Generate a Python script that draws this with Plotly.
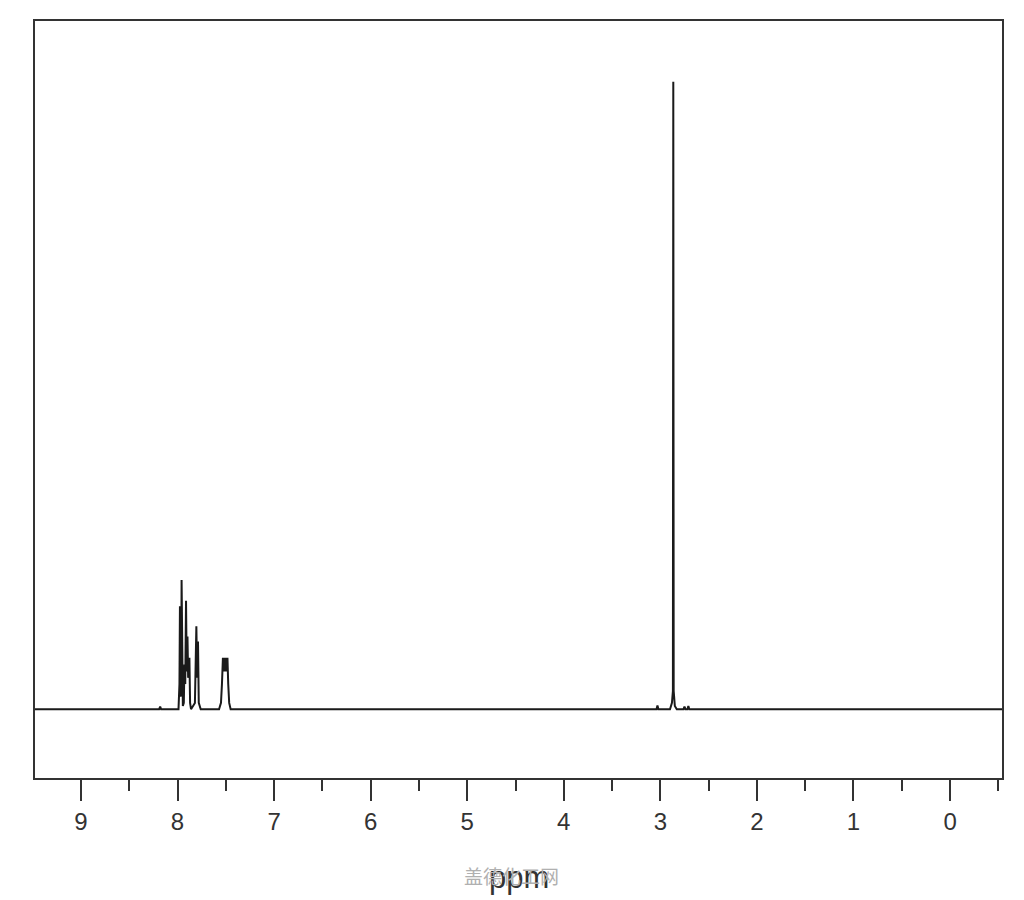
import plotly.graph_objects as go

# Spectrum polyline (chemical shift in ppm, relative intensity)
ppm = [9.48, 8.19, 8.18, 8.17, 7.99, 7.98, 7.975, 7.968, 7.962, 7.958, 7.952, 7.945,
       7.935, 7.928, 7.92, 7.912, 7.905, 7.897, 7.89, 7.877, 7.87, 7.86,
       7.82, 7.805, 7.797, 7.788, 7.78, 7.76,
       7.57, 7.55, 7.54, 7.53, 7.52, 7.512, 7.505, 7.497, 7.49, 7.483, 7.475, 7.465, 7.45,
       3.04, 3.03, 3.02, 2.9, 2.88, 2.87, 2.866, 2.862, 2.85, 2.83,
       2.76, 2.75, 2.74, 2.72, 2.71, 2.70, -0.54]
intensity = [0, 0, 0.004, 0, 0, 0.04, 0.164, 0.02, 0.03, 0.206, 0.01, 0.005,
             0.01, 0.071, 0.04, 0.173, 0.06, 0.116, 0.05, 0.082, 0.01, 0.0,
             0.01, 0.132, 0.05, 0.108, 0.01, 0.0,
             0, 0.01, 0.04, 0.082, 0.06, 0.082, 0.06, 0.082, 0.06, 0.082, 0.04, 0.01, 0,
             0, 0.006, 0, 0, 0.01, 0.029, 1.0, 0.029, 0.005, 0,
             0, 0.004, 0, 0, 0.005, 0, 0]

tick_vals = [9, 8, 7, 6, 5, 4, 3, 2, 1, 0]
tick_text = ["9", "8", "7", "6", "5", "4", "3", "2", "1", "0"]

fig = go.Figure()
fig.add_trace(go.Scatter(x=ppm, y=intensity, mode="lines",
                         line=dict(color="#1a1a1a", width=2), hoverinfo="skip"))

fig.update_layout(
    width=1024, height=900,
    margin=dict(l=27, r=30, t=11, b=130),
    paper_bgcolor="white", plot_bgcolor="white",
    showlegend=False,
    font=dict(family="Liberation Sans", color="#333333"),
    xaxis=dict(range=[9.476, -0.538], showgrid=False, zeroline=False,
               showline=True, linecolor="#333333", linewidth=2, mirror=True,
               tickmode="array", tickvals=tick_vals, ticktext=tick_text,
               ticks="outside", ticklen=21, tickwidth=2, tickcolor="#333333",
               ticklabelstandoff=0,
               tickfont=dict(size=24, color="#333333", family="Liberation Sans"),
               minor=dict(dtick=0.5, tick0=0, ticks="outside", ticklen=11,
                          tickwidth=2, tickcolor="#333333", showgrid=False)),
    yaxis=dict(range=[-0.1097, 1.097], showgrid=False, zeroline=False,
               showline=True, linecolor="#333333", linewidth=2, mirror=True,
               showticklabels=False, ticks=""),
)

fig.add_annotation(x=0.5, y=-0.132, xref="paper", yref="paper", text="ppm",
                   xanchor="center", yanchor="middle", showarrow=False,
                   font=dict(size=31, color="#333333", family="Liberation Sans"))
fig.add_annotation(x=0.493, y=-0.129, xref="paper", yref="paper", text="盖德化工网",
                   xanchor="center", yanchor="middle", showarrow=False,
                   font=dict(size=19, color="#b0b0b0", family="Noto Sans CJK SC"))

fig.write_html("out.html")
